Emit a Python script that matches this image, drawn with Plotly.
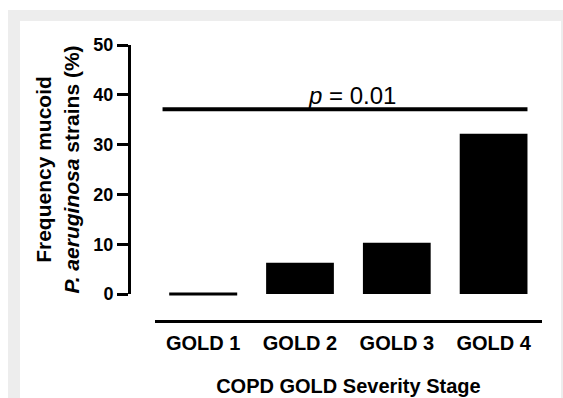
import plotly.graph_objects as go

# ---- data ----
categories = ["GOLD 1", "GOLD 2", "GOLD 3", "GOLD 4"]
values = [0.0, 6.3, 10.3, 32.2]
y_ticks = [0, 10, 20, 30, 40, 50]
p_text = "<i>p</i> = 0.01"
p_bracket_y = 37.1
p_bracket_x = [-0.42, 3.35]

W, H = 563, 398
ML, MR, MT, MB = 129, 21, 45, 77
PW, PH = W - ML - MR, H - MT - MB

def px_x(px):
    return (px - ML) / PW

def px_y(py):
    return (H - MB - py) / PH

FONT = "Liberation Sans, Arial, sans-serif"

fig = go.Figure()
fig.add_trace(go.Bar(
    x=categories, y=values, width=0.7,
    marker=dict(color="black", line=dict(width=0)),
    showlegend=False, hoverinfo="skip",
))
# zero-valued bars drawn as a flat line at their value
zero_x = [c for c, v in zip(categories, values) if v == 0]
zero_y = [v for v in values if v == 0]
fig.add_trace(go.Scatter(
    x=zero_x, y=zero_y, mode="markers",
    marker=dict(symbol="line-ew", size=68 / 1.4, line=dict(width=3, color="black"), color="black"),
    showlegend=False, hoverinfo="skip", cliponaxis=False,
))

shapes = [
    # grey frame
    dict(type="rect", xref="paper", yref="paper", layer="below",
         x0=px_x(8), x1=px_x(570), y0=px_y(405), y1=px_y(10),
         fillcolor="#ededed", line=dict(width=0)),
    dict(type="rect", xref="paper", yref="paper", layer="below",
         x0=px_x(20), x1=px_x(561), y0=px_y(405), y1=px_y(21),
         fillcolor="white", line=dict(width=0)),
    # significance bracket
    dict(type="line", xref="x", yref="y",
         x0=p_bracket_x[0], x1=p_bracket_x[1], y0=p_bracket_y, y1=p_bracket_y,
         line=dict(color="black", width=4)),
]

fig.add_annotation(
    x=1.54, y=p_bracket_y, xref="x", yref="y", text=p_text, showarrow=False,
    yanchor="bottom", xanchor="center", yshift=-2,
    font=dict(family=FONT, size=24, color="black"),
)

fig.update_layout(
    width=W, height=H,
    margin=dict(l=ML, r=MR, t=MT, b=MB, pad=0, autoexpand=False),
    paper_bgcolor="white", plot_bgcolor="rgba(0,0,0,0)",
    shapes=shapes,
    bargap=0.3,
    showlegend=False,
    xaxis=dict(
        domain=[px_x(154.8), 1], range=[-0.5, 3.5],
        anchor="free", position=0, automargin=False,
        showline=True, linewidth=3, linecolor="black",
        ticks="", showgrid=False, zeroline=False,
        tickfont=dict(family=FONT, size=20, color="black", weight="bold"),
        ticklabelstandoff=3,
        title=dict(text="COPD GOLD Severity Stage", standoff=25,
                   font=dict(family=FONT, size=20, color="black", weight="bold")),
    ),
    yaxis=dict(
        domain=[px_y(294), 1], range=[0, 50],
        anchor="free", position=0, automargin=False,
        showline=True, linewidth=3, linecolor="black",
        ticks="outside", ticklen=11, tickwidth=3, tickcolor="black",
        tickvals=y_ticks, showgrid=False, zeroline=False,
        tickfont=dict(family=FONT, size=18, color="black", weight="bold"),
        title=dict(text="Frequency mucoid<br><i>P. aeruginosa</i> strains (%)", standoff=7,
                   font=dict(family=FONT, size=21, color="black", weight="bold")),
    ),
)

fig.write_html("out.html", config={"displayModeBar": False},
               post_script="document.body.style.margin='0';")
